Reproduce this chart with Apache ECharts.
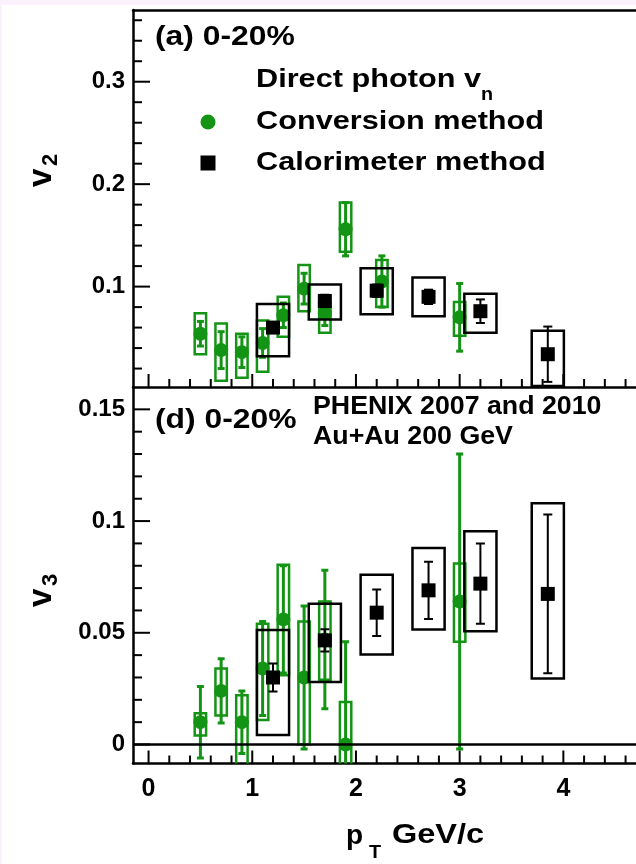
<!DOCTYPE html>
<html>
<head>
<meta charset="utf-8">
<script src="https://cdn.jsdelivr.net/npm/echarts@6/dist/echarts.min.js"></script>
<style>
  html, body { margin: 0; padding: 0; width: 636px; height: 864px; overflow: hidden; background: #fcf0fc; }
  #chart { position: absolute; left: 2px; top: 5px; width: 700px; height: 859px; background: #ffffff; }
</style>
</head>
<body>
<div id="chart"></div>
<script>
// ---- v2, conversion method ----
const convPtV2     = [0.5, 0.7, 0.9, 1.1, 1.3, 1.5, 1.7, 1.9, 2.25, 3.0];
const convV2       = [0.054, 0.038, 0.036, 0.045, 0.072, 0.098, 0.074, 0.156, 0.105, 0.070];
const convV2Stat   = [0.012, 0.018, 0.015, 0.014, 0.012, 0.015, 0.012, 0.026, 0.025, 0.033];
const convV2SysUp  = [0.020, 0.026, 0.018, 0.022, 0.018, 0.023, 0.010, 0.026, 0.021, 0.015];
const convV2SysLo  = [0.020, 0.030, 0.025, 0.028, 0.021, 0.022, 0.019, 0.022, 0.025, 0.018];

// ---- v2, calorimeter method ----
const calPtV2     = [1.2, 1.7, 2.2, 2.7, 3.2, 3.85];
const calV2       = [0.060, 0.086, 0.096, 0.090, 0.076, 0.034];
const calV2Stat   = [0.005, 0.006, 0.006, 0.007, 0.0115, 0.027];
const calV2SysUp  = [0.023, 0.016, 0.022, 0.019, 0.017, 0.023];
const calV2SysLo  = [0.028, 0.018, 0.023, 0.019, 0.021, 0.031];

// ---- v3, conversion method ----
const convPtV3     = [0.5, 0.7, 0.9, 1.1, 1.3, 1.5, 1.7, 1.9, 3.0];
const convV3       = [0.010, 0.024, 0.010, 0.034, 0.056, 0.030, 0.047, 0.000, 0.064];
const convV3Stat   = [0.016, 0.0144, 0.014, 0.021, 0.024, 0.032, 0.031, 0.046, 0.066];
const convV3SysUp  = [0.004, 0.010, 0.012, 0.020, 0.0245, 0.025, 0.017, 0.019, 0.017];
const convV3SysLo  = [0.006, 0.011, 0.022, 0.023, 0.025, 0.030, 0.018, 0.019, 0.018];

// ---- v3, calorimeter method ----
const calPtV3     = [1.2, 1.7, 2.2, 2.7, 3.2, 3.85];
const calV3       = [0.030, 0.0466, 0.059, 0.069, 0.072, 0.0674];
const calV3Stat   = [0.0063, 0.005, 0.0104, 0.0128, 0.018, 0.0355];
const calV3SysUp  = [0.0213, 0.0164, 0.017, 0.019, 0.0234, 0.0406];
const calV3SysLo  = [0.0258, 0.0186, 0.0187, 0.0175, 0.0213, 0.0379];

// ---- axes ----
const ptRange = [-0.15, 4.85];
const v2Range = [0.002, 0.37];
const v3Range = [-0.0085, 0.16];
const ptMajor = [0, 1, 2, 3, 4];
const ptMinor = [0.2, 0.4, 0.6, 0.8, 1.2, 1.4, 1.6, 1.8, 2.2, 2.4, 2.6, 2.8, 3.2, 3.4, 3.6, 3.8, 4.2, 4.4, 4.6, 4.8];
const v2Major = [0.1, 0.2, 0.3];
const v2Minor = [0.02, 0.04, 0.06, 0.08, 0.12, 0.14, 0.16, 0.18, 0.22, 0.24, 0.26, 0.28, 0.32, 0.34, 0.36];
const v3Major = [0, 0.05, 0.1, 0.15];
const v3Minor = [0.01, 0.02, 0.03, 0.04, 0.06, 0.07, 0.08, 0.09, 0.11, 0.12, 0.13, 0.14];

const GREEN = '#149414';
const FONT = '"Liberation Sans", Arial, sans-serif';

// open rectangle spanning value + up / - down systematic
function boxItem(halfX, color, lw) {
  return function (params, api) {
    const x = api.value(0), y = api.value(1);
    const a = api.coord([x - halfX, y + api.value(2)]);
    const b = api.coord([x + halfX, y - api.value(3)]);
    return {
      type: 'rect',
      shape: { x: a[0], y: a[1], width: b[0] - a[0], height: b[1] - a[1] },
      style: { fill: 'none', stroke: color, lineWidth: lw }
    };
  };
}

// vertical stat error bar with caps
function barItem(cap, color, lw) {
  return function (params, api) {
    const x = api.value(0), y = api.value(1), s = api.value(2);
    const hi = api.coord([x, y + s]);
    const lo = api.coord([x, y - s]);
    const st = { stroke: color, lineWidth: lw };
    return {
      type: 'group',
      children: [
        { type: 'line', shape: { x1: hi[0], y1: hi[1], x2: lo[0], y2: lo[1] }, style: st },
        { type: 'line', shape: { x1: hi[0] - cap, y1: hi[1], x2: hi[0] + cap, y2: hi[1] }, style: st },
        { type: 'line', shape: { x1: lo[0] - cap, y1: lo[1], x2: lo[0] + cap, y2: lo[1] }, style: st }
      ]
    };
  };
}

// inward tick marks on the bottom (x) or left (y) edge of a panel
function tickSeries(xi, yi, along, values, len, fixed) {
  return {
    type: 'custom', xAxisIndex: xi, yAxisIndex: yi, silent: true, clip: false, z: 20,
    data: values.map(v => along === 'x' ? [v, fixed] : [fixed, v]),
    encode: { x: 0, y: 1 },
    renderItem(params, api) {
      const c = api.coord([api.value(0), api.value(1)]);
      const cs = params.coordSys;
      const st = { stroke: '#000', lineWidth: 2 };
      if (along === 'x') {
        const y0 = cs.y + cs.height;
        return { type: 'line', shape: { x1: c[0], y1: y0, x2: c[0], y2: y0 - len }, style: st };
      }
      const x0 = cs.x;
      return { type: 'line', shape: { x1: x0, y1: c[1], x2: x0 + len, y2: c[1] }, style: st };
    }
  };
}

const labelStyle = { color: '#000', fontFamily: FONT, fontWeight: 'bold' };
const lineStyle = { color: '#000', width: 2.5 };

function xAxis(gridIndex, withLabels) {
  return {
    type: 'value', gridIndex, position: 'bottom', min: ptRange[0], max: ptRange[1],
    axisLine: { show: true, onZero: false, lineStyle },
    axisTick: { show: false },
    axisLabel: withLabels ? { show: true, customValues: ptMajor, margin: 13, fontSize: 25, ...labelStyle } : { show: false },
    splitLine: { show: false }
  };
}

function yAxis(gridIndex, range, major) {
  return {
    type: 'value', gridIndex, position: 'left', min: range[0], max: range[1],
    axisLine: { show: true, onZero: false, lineStyle },
    axisTick: { show: false },
    axisLabel: {
      show: true, customValues: major, margin: 8, fontSize: 24, ...labelStyle,
      formatter: v => String(+(+v).toFixed(3))
    },
    splitLine: { show: false }
  };
}

const topFrame = {
  type: 'value', gridIndex: 0, position: 'top', min: ptRange[0], max: ptRange[1],
  axisLine: { show: true, onZero: false, lineStyle },
  axisTick: { show: false }, axisLabel: { show: false }, splitLine: { show: false }
};

function panelSeries(xi, yi, conv, cal, extra) {
  const [cp, cv, cs, cu, cd] = conv;
  const [kp, kv, ks, ku, kd] = cal;
  return [
    { type: 'custom', xAxisIndex: xi, yAxisIndex: yi, clip: true, renderItem: boxItem(0.055, GREEN, 2.5),
      data: cp.map((x, i) => [x, cv[i], cu[i], cd[i]]), encode: { x: 0, y: 1 }, z: 2 },
    { type: 'custom', xAxisIndex: xi, yAxisIndex: yi, clip: true, renderItem: barItem(3.5, GREEN, 3),
      data: cp.map((x, i) => [x, cv[i], cs[i]]), encode: { x: 0, y: 1 }, z: 3 },
    { type: 'scatter', xAxisIndex: xi, yAxisIndex: yi, symbol: 'circle', symbolSize: 14,
      itemStyle: { color: GREEN, opacity: 1 }, data: cp.map((x, i) => [x, cv[i]]), z: 4 },
    { type: 'custom', xAxisIndex: xi, yAxisIndex: yi, clip: true, renderItem: boxItem(0.155, '#000', 2.5),
      data: kp.map((x, i) => [x, kv[i], ku[i], kd[i]]), encode: { x: 0, y: 1 }, z: 5 },
    { type: 'custom', xAxisIndex: xi, yAxisIndex: yi, clip: true, renderItem: barItem(4.5, '#000', 2),
      data: kp.map((x, i) => [x, kv[i], ks[i]]), encode: { x: 0, y: 1 }, z: 6 },
    Object.assign({ type: 'scatter', xAxisIndex: xi, yAxisIndex: yi, symbol: 'rect', symbolSize: 14,
      itemStyle: { color: '#000', opacity: 1 }, data: kp.map((x, i) => [x, kv[i]]), z: 7 }, extra || {})
  ];
}

// page coordinates -> chart coordinates
const P = (x, y) => [x - 2, y - 5];

function text(px, py, str, size, sx) {
  const [x, y] = P(px, py);
  return {
    type: 'text', x, y, scaleX: sx || 1, silent: true, z: 100,
    style: { text: str, font: `bold ${size}px ${FONT}`, fill: '#000', align: 'left', verticalAlign: 'middle' }
  };
}

function axisTitle(px, py, main, sub) {
  const [x, y] = P(px, py);
  return {
    type: 'group', x, y, rotation: Math.PI / 2, silent: true, z: 100,
    children: [
      { type: 'text', x: 0, y: 0, style: { text: main, font: `bold 33px ${FONT}`, fill: '#000', align: 'left', verticalAlign: 'middle' } },
      { type: 'text', x: 21, y: 9, style: { text: sub, font: `bold 22px ${FONT}`, fill: '#000', align: 'left', verticalAlign: 'middle' } }
    ]
  };
}

const graphics = [
  text(155, 38, '(a) 0-20%', 27, 1.18),
  text(256, 80, 'Direct photon v', 26, 1.18),
  text(481, 95, 'n', 18, 1.1),
  text(256, 122, 'Conversion method', 26, 1.18),
  text(256, 163, 'Calorimeter method', 26, 1.18),
  { type: 'circle', shape: { cx: P(208, 122)[0], cy: P(208, 122)[1], r: 7.5 }, style: { fill: GREEN }, z: 100 },
  { type: 'rect', shape: { x: P(200.5, 155.5)[0], y: P(200.5, 155.5)[1], width: 15, height: 15 }, style: { fill: '#000' }, z: 100 },
  text(155, 421, '(d) 0-20%', 27, 1.18),
  text(313, 407, 'PHENIX 2007 and 2010', 25, 1.07),
  text(313, 437, 'Au+Au 200 GeV', 25, 1.07),
  axisTitle(42, 187, 'v', '2'),
  axisTitle(42, 607, 'v', '3'),
  text(346, 836, 'p', 28, 1),
  text(369, 853, 'T', 18, 1.1),
  text(392, 835, 'GeV/c', 28, 1.16)
];

const chart = echarts.init(document.getElementById('chart'), null, { renderer: 'canvas' });
chart.setOption({
  animation: false,
  backgroundColor: '#ffffff',
  grid: [
    { left: 131, top: 5, width: 518.5, height: 377, show: false },
    { left: 131, top: 382, width: 518.5, height: 376.5, show: false }
  ],
  // x axes: 0 = upper panel, 1 = upper panel top edge, 2 = lower panel
  xAxis: [xAxis(0, false), topFrame, xAxis(1, true)],
  yAxis: [yAxis(0, v2Range, v2Major), yAxis(1, v3Range, v3Major)],
  series: [
    ...panelSeries(0, 0,
      [convPtV2, convV2, convV2Stat, convV2SysUp, convV2SysLo],
      [calPtV2, calV2, calV2Stat, calV2SysUp, calV2SysLo]),
    ...panelSeries(2, 1,
      [convPtV3, convV3, convV3Stat, convV3SysUp, convV3SysLo],
      [calPtV3, calV3, calV3Stat, calV3SysUp, calV3SysLo], {
        markLine: {
          silent: true, symbol: 'none', animation: false, label: { show: false },
          lineStyle: { color: '#000', width: 2.5, type: 'solid' },
          data: [{ yAxis: 0 }]
        }
      }),
    tickSeries(0, 0, 'x', ptMajor, 13, v2Range[0]),
    tickSeries(0, 0, 'x', ptMinor, 8, v2Range[0]),
    tickSeries(0, 0, 'y', v2Major, 17, ptRange[0]),
    tickSeries(0, 0, 'y', v2Minor, 9, ptRange[0]),
    tickSeries(2, 1, 'x', ptMajor, 13, v3Range[0]),
    tickSeries(2, 1, 'x', ptMinor, 8, v3Range[0]),
    tickSeries(2, 1, 'y', v3Major, 17, ptRange[0]),
    tickSeries(2, 1, 'y', v3Minor, 9, ptRange[0])
  ],
  graphic: graphics
});
</script>
</body>
</html>
